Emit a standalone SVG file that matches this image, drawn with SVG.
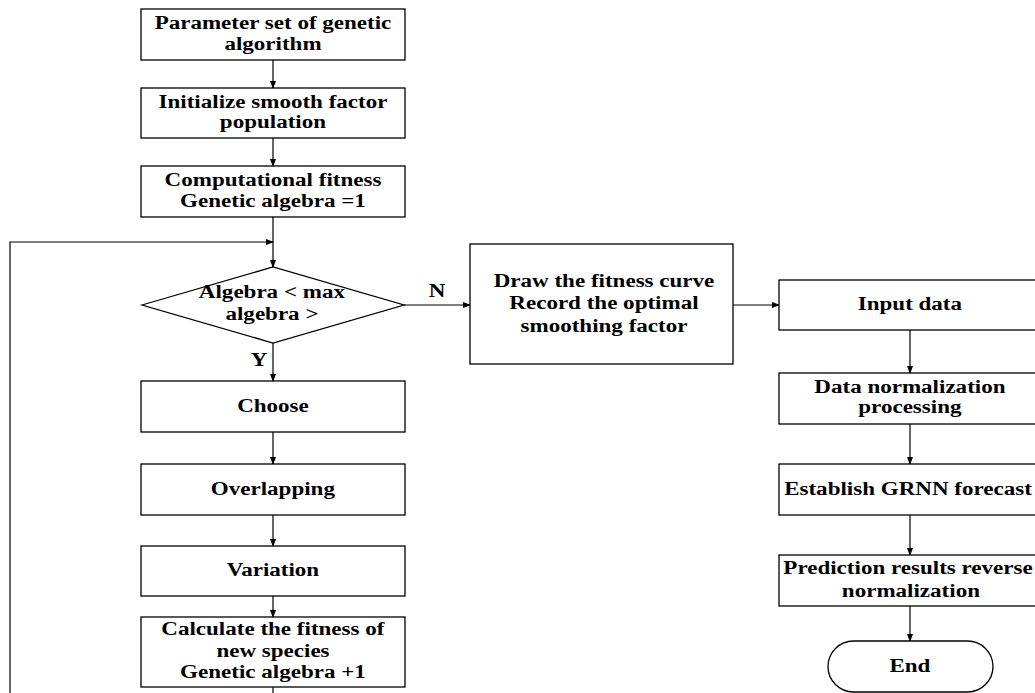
<svg xmlns="http://www.w3.org/2000/svg" width="1035" height="693" viewBox="0 0 1035 693">
<defs>
<marker id="ah" markerWidth="8" markerHeight="6" refX="7" refY="3" orient="auto" markerUnits="userSpaceOnUse">
<path d="M0,0 L8,3 L0,6 Z" fill="#000"/>
</marker>
<style>
.b{fill:#fff;stroke:#000;stroke-width:1.3}
.t{font-family:"Liberation Serif","Times New Roman",serif;font-weight:bold;font-size:18px;text-anchor:middle;fill:#000;transform-box:fill-box;transform-origin:center;transform:scaleX(1.28)}
.c{fill:none;stroke:#000;stroke-width:1.2}
.a{marker-end:url(#ah)}
</style>
</defs>
<rect width="1035" height="693" fill="#fff"/>
<g id="connectors">
<path class="c a" d="M273,60 V88"/>
<path class="c a" d="M273,138 V166"/>
<path class="c a" d="M273,217 V267"/>
<path class="c a" d="M10,693 V242 H273"/>
<path class="c a" d="M404,305 H470"/>
<path class="c a" d="M273,343 V381"/>
<path class="c a" d="M273,432 V464"/>
<path class="c a" d="M273,515 V546"/>
<path class="c a" d="M273,596 V617"/>
<path class="c" d="M273,687 V693"/>
<path class="c a" d="M733,305 H779"/>
<path class="c a" d="M910,330 V373"/>
<path class="c a" d="M910,424 V464"/>
<path class="c a" d="M910,515 V555"/>
<path class="c a" d="M910,606 V641"/>
<text class="t" x="437" y="297">N</text>
<text class="t" x="259" y="366">Y</text>
</g>
<g id="n1"><rect class="b" x="141" y="9" width="264" height="51"/><text class="t" x="273" y="29">Parameter set of genetic</text><text class="t" x="273" y="50">algorithm</text></g>
<g id="n2"><rect class="b" x="141" y="88" width="264" height="50"/><text class="t" x="273" y="108">Initialize smooth factor</text><text class="t" x="273" y="128">population</text></g>
<g id="n3"><rect class="b" x="141" y="166" width="264" height="51"/><text class="t" x="273" y="186">Computational fitness</text><text class="t" x="273" y="207">Genetic algebra =1</text></g>
<g id="n4"><polygon class="b" points="142,305 273,267 404,305 273,343"/><text class="t" x="272" y="298">Algebra &lt; max</text><text class="t" x="272" y="320">algebra &gt;</text></g>
<g id="n5"><rect class="b" x="141" y="381" width="264" height="51"/><text class="t" x="273" y="412">Choose</text></g>
<g id="n6"><rect class="b" x="141" y="464" width="264" height="51"/><text class="t" x="273" y="495">Overlapping</text></g>
<g id="n7"><rect class="b" x="141" y="546" width="264" height="50"/><text class="t" x="273" y="576">Variation</text></g>
<g id="n8"><rect class="b" x="141" y="617" width="264" height="70"/><text class="t" x="273" y="635">Calculate the fitness of</text><text class="t" x="273" y="657">new species</text><text class="t" x="273" y="678">Genetic algebra +1</text></g>
<g id="n9"><rect class="b" x="470" y="244" width="263" height="120"/><text class="t" x="604" y="287">Draw the fitness curve</text><text class="t" x="604" y="309">Record the optimal</text><text class="t" x="604" y="332">smoothing factor</text></g>
<g id="n10"><rect class="b" x="779" y="280" width="262" height="50"/><text class="t" x="910" y="310">Input data</text></g>
<g id="n11"><rect class="b" x="779" y="373" width="262" height="51"/><text class="t" x="910" y="393">Data normalization</text><text class="t" x="910" y="413">processing</text></g>
<g id="n12"><rect class="b" x="779" y="464" width="262" height="51"/><text class="t" x="908" y="495">Establish GRNN forecast</text></g>
<g id="n13"><rect class="b" x="779" y="555" width="262" height="51"/><text class="t" x="908" y="574">Prediction results reverse</text><text class="t" x="911" y="597">normalization</text></g>
<g id="n14"><rect class="b" x="828" y="641" width="165" height="51" rx="25.5" ry="25.5"/><text class="t" x="910" y="672">End</text></g>
</svg>
